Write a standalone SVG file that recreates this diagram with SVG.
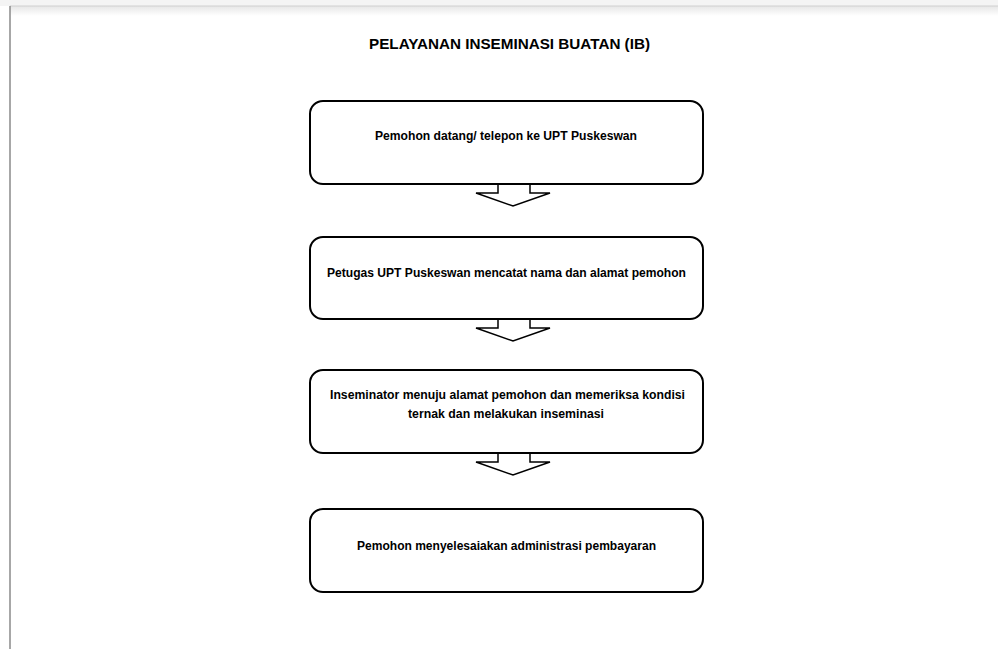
<svg xmlns="http://www.w3.org/2000/svg" width="998" height="649" viewBox="0 0 998 649">
<defs>
<linearGradient id="sh" x1="0" y1="0" x2="0" y2="1"><stop offset="0" stop-color="#e6e6e6"/><stop offset="1" stop-color="#ffffff"/></linearGradient>
</defs>
<style>
.box{fill:#fff;stroke:#000;stroke-width:2}
.arr{fill:#fff;stroke:#000;stroke-width:1.5;stroke-linejoin:miter}
.t{font-family:"Liberation Sans",Arial,sans-serif;font-weight:bold;font-size:12px;fill:#000;text-anchor:middle}
.title{font-family:"Liberation Sans",Arial,sans-serif;font-weight:bold;font-size:15px;fill:#000;text-anchor:middle}
</style>
<rect x="0" y="0" width="998" height="649" fill="#fff"/>
<rect x="0" y="0" width="998" height="6" fill="#f4f4f4"/>
<rect x="10" y="6" width="988" height="10" fill="url(#sh)"/>
<line x1="10" y1="6" x2="998" y2="6" stroke="#d0d0d0" stroke-width="1"/>
<line x1="10" y1="6" x2="10" y2="649" stroke="#8a8a8a" stroke-width="1.5"/>
<text class="title" x="509.5" y="48.5" textLength="281" lengthAdjust="spacingAndGlyphs">PELAYANAN INSEMINASI BUATAN (IB)</text>
<g id="connectors">
<path class="arr" d="M498,184 V193 H476 L513,206 L550,193 H530 V184"/>
<path class="arr" d="M498,319 V328 H476 L513,341 L550,328 H530 V319"/>
<path class="arr" d="M498,453 V462 H476 L513,475 L550,462 H530 V453"/>
</g>
<g id="n1">
<rect class="box" x="310" y="101" width="393" height="83" rx="13"/>
<text class="t" x="506" y="140" textLength="262" lengthAdjust="spacingAndGlyphs">Pemohon datang/ telepon ke UPT Puskeswan</text>
</g>
<g id="n2">
<rect class="box" x="310" y="237" width="393" height="82" rx="13"/>
<text class="t" x="506.5" y="276.5" textLength="359" lengthAdjust="spacingAndGlyphs">Petugas UPT Puskeswan mencatat nama dan alamat pemohon</text>
</g>
<g id="n3">
<rect class="box" x="310" y="370" width="393" height="83" rx="13"/>
<text class="t" x="507.5" y="398.5" textLength="355" lengthAdjust="spacingAndGlyphs">Inseminator menuju alamat pemohon dan memeriksa kondisi</text>
<text class="t" x="506" y="417.5" textLength="196" lengthAdjust="spacingAndGlyphs">ternak dan melakukan inseminasi</text>
</g>
<g id="n4">
<rect class="box" x="310" y="509" width="393" height="83" rx="13"/>
<text class="t" x="506.5" y="549.5" textLength="299" lengthAdjust="spacingAndGlyphs">Pemohon menyelesaiakan administrasi pembayaran</text>
</g>
</svg>
